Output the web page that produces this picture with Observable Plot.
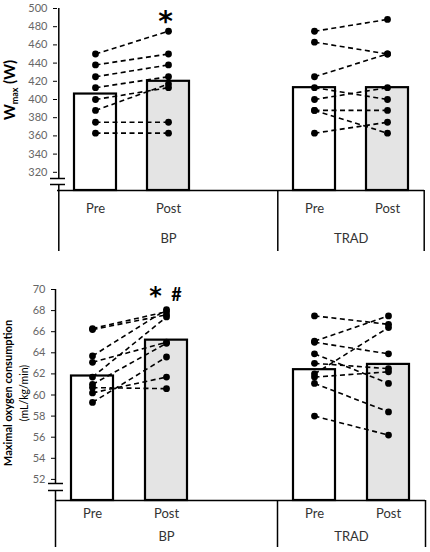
<!DOCTYPE html>
<html>
<head>
<meta charset="utf-8">
<script src="https://cdn.jsdelivr.net/npm/d3@7"></script>
<script src="https://cdn.jsdelivr.net/npm/@observablehq/plot@0.6"></script>
<style>
  html, body { margin: 0; padding: 0; background: #fff; }
  #chart svg { display: block; }
  #chart g[aria-label="y-axis"] text,
  #chart g[aria-label="y-axis tick label"] text { fill: #666; }
</style>
</head>
<body>
<div id="chart"></div>
<script>
// ---- data ----
const groups = ["BP", "TRAD"];
const conditions = ["Pre", "Post"];

// Wmax (W)
const wmaxTicks = [320, 340, 360, 380, 400, 420, 440, 460, 480, 500];
const wmaxDomain = [300, 500];
const wmaxMeans = [406, 420, 413, 413]; // BP Pre, BP Post, TRAD Pre, TRAD Post
const wmaxBPPre    = [450, 438, 425, 413, 400, 388, 375, 363];
const wmaxBPPost   = [475, 450, 438, 425, 413, 417, 375, 363];
const wmaxTRADPre  = [475, 463, 425, 413, 400, 388, 388, 363];
const wmaxTRADPost = [488, 450, 450, 400, 413, 388, 363, 375];

// Maximal oxygen consumption (mL/kg/min)
const vo2Ticks = [52, 54, 56, 58, 60, 62, 64, 66, 68, 70];
const vo2Domain = [50, 70];
const vo2Means = [61.8, 65.2, 62.4, 62.9];
const vo2BPPre    = [66.3, 66.2, 63.7, 63.1, 61.7, 61.0, 60.7, 60.2, 59.3];
const vo2BPPost   = [67.9, 67.6, 68.1, 65.0, 67.4, 64.9, 60.6, 61.7, 63.6];
const vo2TRADPre  = [67.5, 65.1, 65.0, 63.9, 63.0, 62.0, 61.7, 61.1, 58.0];
const vo2TRADPost = [66.7, 67.5, 63.9, 61.1, 62.5, 66.4, 62.2, 58.4, 56.2];

// ---- helpers ----
const FONT = "Lato, 'Open Sans', sans-serif";
const slots = groups.flatMap((g, gi) =>
  [...conditions.map(c => g + "|" + c), ...(gi === 0 ? [g + "|gap"] : [])]);

function panel(cfg) {
  const {width = 430, height, marginTop, marginBottom, marginLeft, marginRight,
         domain, ticks, means, pairs, tail, labDy1, labDy2, breakDy, notes} = cfg;
  const frameH = height - marginTop - marginBottom;
  const frameW = width - marginLeft - marginRight;
  const step = frameW / slots.length;
  const yMin = domain[0];

  const bars = means.map((v, i) => ({
    slot: groups[Math.floor(i / 2)] + "|" + conditions[i % 2],
    cond: conditions[i % 2], value: v
  }));
  const links = [], pts = [];
  groups.forEach(g => {
    const [pre, post] = pairs[g];
    pre.forEach((p, i) => {
      links.push({s1: g + "|Pre", s2: g + "|Post", pre: p, post: post[i]});
      pts.push({slot: g + "|Pre", value: p});
      pts.push({slot: g + "|Post", value: post[i]});
    });
  });
  const catLabels = groups.flatMap(g => conditions.map(c => ({slot: g + "|" + c, text: c})));

  const svg = Plot.plot({
    width, height, marginTop, marginBottom, marginLeft, marginRight,
    style: {fontFamily: FONT, fontSize: "11px", color: "#000", background: "#fff"},
    x: {type: "band", domain: slots, paddingInner: 0.43, paddingOuter: 0.215, axis: null},
    y: {domain, ticks, tickSize: 4, tickPadding: 6, label: null, tickFormat: d => String(d)},
    marks: [
      Plot.barY(bars.filter(d => d.cond === "Pre"), {x: "slot", y1: () => yMin, y2: "value", fill: "#fff", stroke: "#000", strokeWidth: 2.2}),
      Plot.barY(bars.filter(d => d.cond === "Post"), {x: "slot", y1: () => yMin, y2: "value", fill: "#e4e4e4", stroke: "#000", strokeWidth: 2.2}),
      Plot.ruleY([yMin], {stroke: "#000", strokeWidth: 1.5}),
      Plot.ruleX([slots[0]], {x: d => d, dx: -step / 2, stroke: "#000", strokeWidth: 1.5, insetTop: 0, insetBottom: -tail}),
      Plot.ruleX(["TRAD|Pre"], {x: d => d, dx: -step / 2, stroke: "#000", strokeWidth: 1.5, insetTop: frameH, insetBottom: -tail}),
      Plot.ruleX(["TRAD|Post"], {x: d => d, dx: step / 2, stroke: "#000", strokeWidth: 1.5, insetTop: frameH, insetBottom: -tail}),
      Plot.ruleX([slots[0]], {x: d => d, dx: -step / 2, stroke: "#fff", strokeWidth: 4, insetTop: frameH + breakDy[0], insetBottom: -breakDy[1]}),
      Plot.ruleY([yMin], {dy: breakDy[0], stroke: "#000", strokeWidth: 1.5, insetLeft: -7, insetRight: frameW - 8}),
      Plot.ruleY([yMin], {dy: breakDy[1], stroke: "#000", strokeWidth: 1.5, insetLeft: -7, insetRight: frameW - 8}),
      Plot.link(links, {x1: "s1", x2: "s2", y1: "pre", y2: "post", stroke: "#000", strokeWidth: 1.6, strokeDasharray: "5,3.5"}),
      Plot.dot(pts, {x: "slot", y: "value", r: 3.4, fill: "#000", stroke: "none"}),
      Plot.text(catLabels, {x: "slot", text: "text", frameAnchor: "bottom", dy: labDy1, fontSize: 13, fill: "#333"}),
      Plot.text([groups[0]], {x: () => "BP|Post", text: d => d, frameAnchor: "bottom", dy: labDy2, fontSize: 13, fill: "#333"}),
      Plot.text([groups[1]], {x: () => "TRAD|Pre", text: d => d, frameAnchor: "bottom", dy: labDy2, dx: step / 2, fontSize: 13, fill: "#333"}),
      ...notes.map(n => Plot.text([n.text], {x: () => n.slot, text: d => d, frameAnchor: "top", dy: n.dy, dx: n.dx, fontSize: n.size, fontWeight: "bold", fill: "#000", fontFamily: n.font || FONT}))
    ]
  });
  return svg;
}

const root = document.getElementById("chart");

const topPanel = panel({
  height: 265, marginTop: 8, marginBottom: 75, marginLeft: 57, marginRight: 6,
  domain: wmaxDomain, ticks: wmaxTicks, means: wmaxMeans,
  pairs: {BP: [wmaxBPPre, wmaxBPPost], TRAD: [wmaxTRADPre, wmaxTRADPost]},
  tail: 61, labDy1: 22, labDy2: 52, breakDy: [-12, -6],
  notes: [{text: "*", slot: "BP|Post", dx: -3, dy: 3, size: 28, font: "'DejaVu Sans', sans-serif"}]
});
root.appendChild(topPanel);
{
  const t = d3.select(topPanel).append("text")
    .attr("transform", "translate(15,90) rotate(-90)")
    .attr("text-anchor", "middle")
    .attr("font-family", FONT).attr("font-weight", "bold").attr("font-size", 15).attr("fill", "#000");
  t.append("tspan").text("W");
  t.append("tspan").attr("font-size", 9).attr("dy", 3).text("max");
  t.append("tspan").attr("dy", -3).text(" (W)");
}

const bottomPanel = panel({
  height: 287, marginTop: 24, marginBottom: 52, marginLeft: 55, marginRight: 5,
  domain: vo2Domain, ticks: vo2Ticks, means: vo2Means,
  pairs: {BP: [vo2BPPre, vo2BPPost], TRAD: [vo2TRADPre, vo2TRADPost]},
  tail: 47, labDy1: 17, labDy2: 40, breakDy: [-17, -10],
  notes: [
    {text: "*", slot: "BP|Post", dx: -11, dy: -3, size: 24, font: "'DejaVu Sans', sans-serif"},
    {text: "#", slot: "BP|Post", dx: 10, dy: -1, size: 18}
  ]
});
root.appendChild(bottomPanel);
{
  const g = d3.select(bottomPanel).append("g").attr("font-family", FONT).attr("fill", "#000").attr("text-anchor", "middle");
  g.append("text").attr("transform", "translate(12,128) rotate(-90)")
    .attr("font-weight", "bold").attr("font-size", 11).text("Maximal oxygen consumption");
  g.append("text").attr("transform", "translate(28,128) rotate(-90)")
    .attr("font-size", 10.5).text("(mL/kg/min)");
}
</script>
</body>
</html>
